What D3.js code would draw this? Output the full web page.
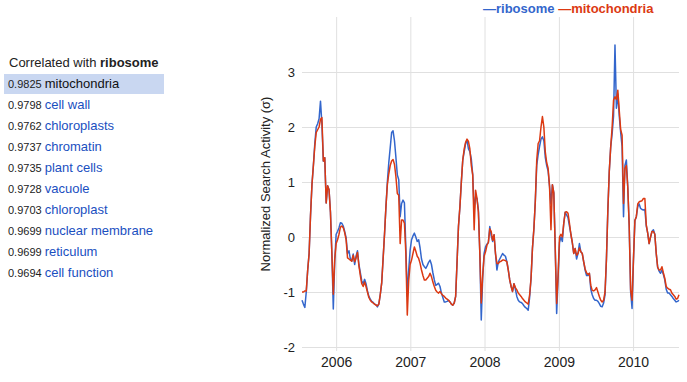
<!DOCTYPE html>
<html>
<head>
<meta charset="utf-8">
<script src="https://cdn.jsdelivr.net/npm/d3@7"></script>
<style>
  body { margin: 0; background: #fff; }
  text { font-family: Arial, "Liberation Sans", sans-serif; }
</style>
</head>
<body>
<div id="chart"></div>
<script>
// correlated terms list
var termNames = ["mitochondria", "cell wall", "chloroplasts", "chromatin", "plant cells",
  "vacuole", "chloroplast", "nuclear membrane", "reticulum", "cell function"];
var termScores = ["0.9825", "0.9798", "0.9762", "0.9737", "0.9735",
  "0.9728", "0.9703", "0.9699", "0.9699", "0.9694"];

// weekly series, first week starts 2005-07-17
var seriesNames = ["ribosome", "mitochondria"];
var yTicks = [-2, -1, 0, 1, 2, 3];
var ribosome = [
  -1.15,-1.22,-1.28,-1.0,-0.6,-0.3,0.4,0.95,1.3,1.7,
  2.0,2.06,2.15,2.47,2.05,1.38,1.44,0.62,0.93,0.86,
  0.45,-0.3,-1.31,-0.45,0.05,0.1,0.17,0.26,0.25,0.2,
  0.1,-0.01,-0.3,-0.25,-0.4,-0.44,-0.31,-0.5,-0.35,-0.25,
  -0.5,-0.65,-0.8,-0.85,-0.77,-0.85,-0.98,-1.08,-1.13,-1.17,
  -1.19,-1.22,-1.23,-1.27,-1.22,-1.05,-0.84,-0.4,0.05,0.55,
  1.0,1.35,1.62,1.9,1.93,1.75,1.45,1.13,1.04,0.37,
  0.61,0.67,0.62,-0.2,-1.08,-0.6,-0.24,-0.05,0.02,0.07,
  0.0,-0.08,-0.05,-0.2,-0.4,-0.5,-0.54,-0.57,-0.52,-0.46,
  -0.42,-0.5,-0.65,-0.78,-0.88,-0.86,-0.84,-0.9,-1.02,-1.1,
  -1.18,-1.18,-1.17,-1.15,-1.18,-1.22,-1.24,-1.2,-1.08,-0.45,
  0.2,0.55,1.0,1.4,1.55,1.7,1.76,1.6,1.55,1.42,
  1.13,0.49,0.73,0.7,0.49,-0.3,-1.51,-0.75,-0.3,-0.18,
  -0.13,-0.1,0.19,0.02,-0.08,0.04,-0.3,-0.6,-0.45,-0.4,
  -0.35,-0.3,-0.33,-0.35,-0.45,-0.6,-0.78,-0.9,-0.99,-0.85,
  -0.95,-1.08,-1.15,-1.18,-1.19,-1.21,-1.25,-1.28,-1.3,-1.33,
  -1.1,-0.75,-0.2,0.15,0.65,1.3,1.5,1.65,1.78,1.82,
  1.75,1.45,1.3,1.2,0.92,0.6,0.95,0.8,-0.2,-1.39,
  -0.75,-0.1,0.0,-0.08,0.25,0.45,0.4,0.35,0.2,0.05,
  -0.1,-0.3,-0.21,-0.4,-0.3,-0.12,-0.27,-0.3,-0.45,-0.6,
  -0.7,-0.7,-0.66,-0.95,-1.05,-1.12,-1.15,-1.15,-1.17,-1.21,
  -1.26,-1.27,-1.2,-1.05,-0.4,0.5,1.2,1.64,1.88,2.2,
  3.49,2.34,2.6,2.2,1.9,1.64,0.37,1.3,1.4,0.9,
  0.2,-1.0,-1.3,-0.4,0.3,0.37,0.55,0.6,0.52,0.5,
  0.49,0.5,0.2,0.07,-0.12,0.0,0.1,0.13,0.05,-0.3,
  -0.55,-0.62,-0.66,-0.6,-0.68,-0.78,-0.95,-1.02,-1.02,-1.05,
  -1.08,-1.12,-1.15,-1.18,-1.17,-1.15
];
var mitochondria = [
  -1.0,-1.0,-0.98,-0.98,-0.6,-0.3,0.4,0.95,1.3,1.65,
  1.9,1.95,2.0,2.14,2.17,1.38,1.44,0.62,0.93,0.86,
  0.45,-0.3,-1.04,-0.4,-0.12,-0.05,0.05,0.18,0.2,0.17,
  0.08,-0.05,-0.38,-0.4,-0.42,-0.44,-0.33,-0.45,-0.38,-0.28,
  -0.52,-0.7,-0.85,-0.9,-0.82,-0.9,-1.0,-1.1,-1.15,-1.18,
  -1.2,-1.22,-1.24,-1.25,-1.22,-1.05,-0.84,-0.4,0.05,0.55,
  0.95,1.15,1.3,1.38,1.41,1.32,1.1,0.79,0.76,-0.12,
  0.31,0.31,0.25,-0.3,-1.42,-0.8,-0.5,-0.42,-0.3,-0.18,
  -0.26,-0.35,-0.39,-0.48,-0.6,-0.7,-0.78,-0.78,-0.75,-0.72,
  -0.66,-0.72,-0.82,-0.9,-0.97,-1.0,-1.02,-0.99,-1.03,-1.06,
  -1.08,-1.11,-1.13,-1.15,-1.18,-1.22,-1.24,-1.2,-1.08,-0.45,
  0.2,0.55,1.0,1.4,1.6,1.72,1.78,1.74,1.6,1.3,
  1.13,0.13,0.85,0.7,0.45,-0.3,-1.2,-0.7,-0.35,-0.27,
  -0.15,-0.1,0.15,0.1,-0.06,0.04,-0.3,-0.48,-0.48,-0.45,
  -0.44,-0.42,-0.42,-0.43,-0.45,-0.6,-0.78,-0.9,-0.99,-0.85,
  -0.92,-0.96,-1.02,-1.05,-1.08,-1.12,-1.15,-1.18,-1.2,-1.22,
  -1.05,-0.75,-0.2,0.15,0.65,1.4,1.7,1.75,2.0,2.19,
  2.0,1.55,1.35,1.25,0.92,0.13,0.95,0.8,-0.2,-1.21,
  -0.7,0.0,0.05,0.0,0.25,0.45,0.46,0.43,0.25,0.05,
  -0.1,-0.3,-0.21,-0.33,-0.3,-0.2,-0.27,-0.3,-0.45,-0.58,
  -0.65,-0.68,-0.66,-0.88,-0.97,-0.98,-0.96,-0.92,-1.0,-1.08,
  -1.15,-1.18,-1.15,-1.0,-0.4,0.5,1.2,1.64,2.0,2.49,
  2.55,2.5,2.67,2.3,1.95,1.85,0.61,1.25,1.3,0.9,
  0.2,-0.96,-1.15,-0.4,0.3,0.37,0.6,0.64,0.65,0.66,
  0.7,0.7,0.22,0.07,-0.12,0.0,0.1,0.1,0.05,-0.3,
  -0.55,-0.6,-0.6,-0.54,-0.65,-0.75,-0.9,-0.93,-0.95,-0.96,
  -1.02,-1.05,-1.08,-1.13,-1.12,-1.05
];
var weeks = ribosome.map(function (d, i) { return d3.timeWeek.offset(new Date(2005, 6, 17), i); });

var W = 687, H = 382;
var svg = d3.select("#chart").append("svg")
    .attr("width", W)
    .attr("height", H);

// ---- left list ----
var list = svg.append("g");
var title = list.append("text").attr("x", 9).attr("y", 67)
    .style("font-size", "13px").attr("fill", "#222");
title.append("tspan").text("Correlated with ");
title.append("tspan").attr("font-weight", "bold").text("ribosome");

list.append("rect")
    .attr("x", 4).attr("y", 74)
    .attr("width", 160).attr("height", 20)
    .attr("fill", "#c9d7f1");

var rows = list.selectAll(".row")
    .data(termNames)
    .enter().append("text")
    .attr("class", "row")
    .attr("x", 8)
    .attr("y", function (d, i) { return 88 + i * 21; });
rows.append("tspan")
    .style("font-size", "11px")
    .attr("fill", "#222")
    .text(function (d, i) { return termScores[i] + " "; });
rows.append("tspan")
    .style("font-size", "13px")
    .attr("fill", function (d, i) { return i === 0 ? "#111" : "#1a4fbf"; })
    .text(function (d) { return d; });

// ---- chart ----
var x = d3.scaleTime()
    .domain(d3.extent(weeks))
    .range([302, 679]);
var y = d3.scaleLinear()
    .domain([-2, 4])
    .range([347, 17]);

var colors = ["#3366cc", "#dc3912"];

// horizontal grid + y labels
var yAxis = svg.append("g")
    .attr("transform", "translate(302,0)")
    .call(d3.axisLeft(y).tickValues(yTicks).tickSize(-377).tickFormat(function (d) { return String(d); }));
yAxis.select(".domain").remove();
yAxis.selectAll("line").attr("stroke", "#e0e0e0");
yAxis.selectAll("text")
    .style("font-size", "13px")
    .attr("fill", "#222")
    .attr("x", -7)
    .style("font-family", "Arial, 'Liberation Sans', sans-serif");

// vertical year grid + labels
var xAxis = svg.append("g")
    .attr("transform", "translate(0,351)")
    .call(d3.axisBottom(x).ticks(d3.timeYear.every(1)).tickSize(-334).tickPadding(6).tickFormat(d3.timeFormat("%Y")));
xAxis.select(".domain").remove();
xAxis.selectAll("line").attr("stroke", "#e0e0e0");
xAxis.selectAll("text")
    .style("font-size", "14px")
    .attr("fill", "#222")
    .style("font-family", "Arial, 'Liberation Sans', sans-serif");

// y axis title
svg.append("text")
    .attr("transform", "translate(270,184) rotate(-90)")
    .attr("text-anchor", "middle")
    .style("font-size", "13px")
    .attr("fill", "#222")
    .text("Normalized Search Activity (\u03c3)");

// lines
var line = d3.line()
    .x(function (d, i) { return x(weeks[i]); })
    .y(function (d) { return y(d); });
[ribosome, mitochondria].forEach(function (s, k) {
  svg.append("path")
      .datum(s)
      .attr("fill", "none")
      .attr("stroke", colors[k])
      .attr("stroke-width", 1.5)
      .attr("stroke-linejoin", "round")
      .attr("d", line);
});

// legend
var legend = svg.append("text")
    .attr("x", 483).attr("y", 13)
    .style("font-size", "13px")
    .attr("font-weight", "bold");
seriesNames.forEach(function (n, k) {
  legend.append("tspan")
      .attr("fill", colors[k])
      .text((k ? " " : "") + "\u2014" + n);
});
</script>
</body>
</html>
